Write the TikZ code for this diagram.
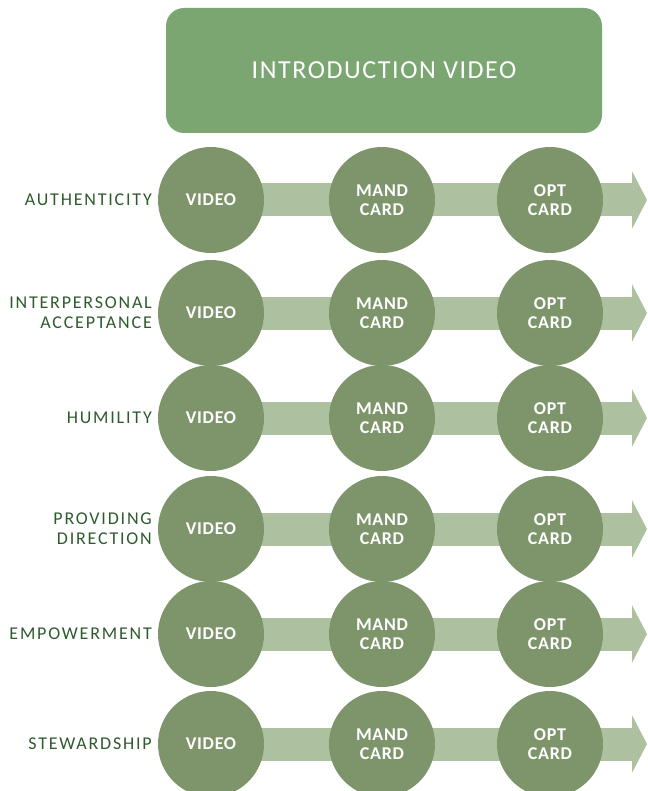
\documentclass[tikz,border=0pt]{standalone}
\usepackage{fontspec}
\setmainfont{Carlito}
\usetikzlibrary{arrows.meta,backgrounds}

\definecolor{boxgreen}{HTML}{7BA672}
\definecolor{dotgreen}{HTML}{7E956C}
\definecolor{bandgreen}{HTML}{ADC1A0}
\definecolor{labelgreen}{HTML}{2E5A2E}

\tikzset{
  intro/.style={rounded corners=18pt,fill=boxgreen,minimum width=436pt,minimum height=125pt,
    text=white,font=\fontsize{26}{30}\selectfont\addfontfeature{LetterSpace=6}},
  stage/.style={circle,fill=dotgreen,minimum size=106pt,inner sep=0pt,align=center,
    text=white,font=\bfseries\fontsize{18}{19}\selectfont\addfontfeature{LetterSpace=4}},
  topic/.style={anchor=east,align=right,inner sep=0pt,
    text=labelgreen,font=\fontsize{18}{20}\selectfont\addfontfeature{LetterSpace=10}},
  band/.style={draw=bandgreen,line width=33pt,-{Triangle[width=57pt,length=15pt]}}
}

\begin{document}
\begin{tikzpicture}[x=1pt,y=-1pt]
\useasboundingbox (0,0) rectangle (647,791);

\node[intro] (intro) at (384,70.5) {INTRODUCTION VIDEO};

% one row for each theme
\foreach \y/\name/\topic in {200/auth/AUTHENTICITY,
                             313/inter/{INTERPERSONAL\\ACCEPTANCE},
                             418/hum/HUMILITY,
                             529/dir/{PROVIDING\\DIRECTION},
                             634/emp/EMPOWERMENT,
                             744/stew/STEWARDSHIP}{
  \node[topic] (\name-topic) at (152,\y) {\topic};
  \node[stage] (\name-video) at (211,\y) {VIDEO};
  \node[stage] (\name-mand) at (382,\y) {MAND\\CARD};
  \node[stage] (\name-opt) at (550,\y) {OPT\\CARD};
  \coordinate (\name-tip) at (647,\y);
  \begin{scope}[on background layer]
    \draw[band] (\name-video.center) -- (\name-tip);
  \end{scope}
}
\end{tikzpicture}
\end{document}
